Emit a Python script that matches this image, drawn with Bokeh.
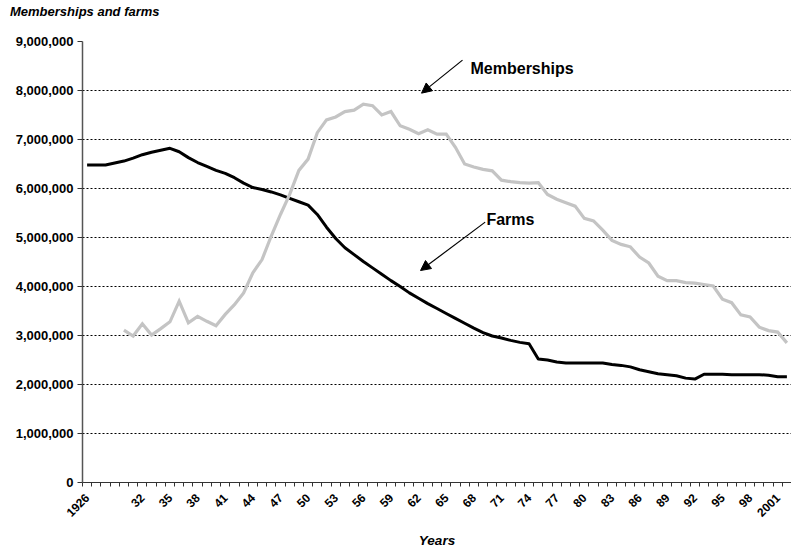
import math
from bokeh.plotting import figure
from bokeh.layouts import column
from bokeh.models import Range1d, FixedTicker, NumeralTickFormatter, Arrow, NormalHead, Label, Div
from bokeh.embed import file_html
from bokeh.resources import INLINE

# ---------------- data ----------------
farm_years = list(range(1926, 2003))
farms = [6.48, 6.48, 6.48, 6.52, 6.56, 6.62, 6.69, 6.74, 6.78, 6.82,
         6.75, 6.63, 6.53, 6.45, 6.37, 6.31, 6.22, 6.11, 6.02, 5.98,
         5.93, 5.87, 5.80, 5.73, 5.66, 5.47, 5.21, 4.98, 4.79, 4.65,
         4.51, 4.38, 4.25, 4.12, 4.00, 3.87, 3.76, 3.65, 3.55, 3.45,
         3.35, 3.25, 3.15, 3.06, 2.99, 2.95, 2.90, 2.86, 2.83, 2.52,
         2.50, 2.46, 2.44, 2.44, 2.44, 2.44, 2.44, 2.41, 2.39, 2.36,
         2.30, 2.26, 2.22, 2.20, 2.18, 2.13, 2.11, 2.21, 2.21, 2.21,
         2.20, 2.20, 2.20, 2.20, 2.19, 2.16, 2.16]
farms = [v * 1_000_000 for v in farms]

member_years = list(range(1930, 2003))
memberships = [3.11, 2.99, 3.24, 3.01, 3.14, 3.28, 3.70, 3.26, 3.39, 3.29,
               3.20, 3.43, 3.63, 3.87, 4.28, 4.55, 5.03, 5.47, 5.88, 6.37,
               6.60, 7.14, 7.40, 7.46, 7.57, 7.60, 7.72, 7.69, 7.50, 7.57,
               7.28, 7.21, 7.12, 7.20, 7.11, 7.11, 6.84, 6.50, 6.44, 6.39,
               6.36, 6.17, 6.14, 6.12, 6.11, 6.12, 5.88, 5.78, 5.71, 5.64,
               5.39, 5.34, 5.15, 4.94, 4.86, 4.81, 4.60, 4.48, 4.21, 4.12,
               4.12, 4.08, 4.07, 4.04, 4.01, 3.74, 3.67, 3.42, 3.38, 3.17,
               3.10, 3.07, 2.85]
memberships = [v * 1_000_000 for v in memberships]

tick_years = [1926, 1932, 1935, 1938, 1941, 1944, 1947, 1950, 1953, 1956, 1959,
              1962, 1965, 1968, 1971, 1974, 1977, 1980, 1983, 1986, 1989, 1992,
              1995, 1998, 2001]
tick_labels = ["1926", "32", "35", "38", "41", "44", "47", "50", "53", "56", "59",
               "62", "65", "68", "71", "74", "77", "80", "83", "86", "89", "92",
               "95", "98", "2001"]
y_ticks = [0, 1_000_000, 2_000_000, 3_000_000, 4_000_000, 5_000_000,
           6_000_000, 7_000_000, 8_000_000, 9_000_000]

FONT = "Liberation Sans"

title = Div(text="Memberships and farms", width=791, height=20, margin=(0, 0, 0, 0),
            styles={"font-family": FONT, "font-size": "13px", "font-weight": "bold",
                    "font-style": "italic", "color": "black",
                    "padding-left": "10px", "padding-top": "4px", "line-height": "normal"})

p = figure(width=791, height=530, output_backend="svg", toolbar_location=None,
           x_range=Range1d(farm_years[0] - 0.5, farm_years[-1] + 0.5),
           y_range=Range1d(0, 9_000_000),
           min_border_left=82, min_border_right=0, min_border_top=21,
           min_border_bottom=68, margin=(0, 0, 0, 0))
p.outline_line_color = None
p.background_fill_color = "white"

# grid
p.xgrid.grid_line_color = None
p.ygrid.grid_line_color = "black"
p.ygrid.grid_line_dash = "2 2"
p.ygrid.grid_line_width = 1

# y axis
p.yaxis.ticker = FixedTicker(ticks=y_ticks)
p.yaxis.formatter = NumeralTickFormatter(format="0,0")
p.yaxis.major_tick_out = 5
p.yaxis.major_tick_in = 0
p.yaxis.minor_tick_line_color = None
p.yaxis.major_label_standoff = 4
p.yaxis.major_label_text_font = FONT
p.yaxis.major_label_text_font_size = "13px"
p.yaxis.major_label_text_font_style = "bold"
p.yaxis.major_label_text_color = "black"
p.yaxis.axis_line_color = "#555555"
p.yaxis.axis_line_width = 1.5
p.yaxis.major_tick_line_color = "#333333"

# x axis
boundaries = [y - 0.5 for y in farm_years] + [farm_years[-1] + 0.5]
p.xaxis.ticker = FixedTicker(ticks=tick_years, minor_ticks=boundaries)
p.xaxis.major_label_overrides = {y: l for y, l in zip(tick_years, tick_labels)}
p.xaxis.major_tick_out = 0
p.xaxis.major_tick_in = 0
p.xaxis.minor_tick_out = 4
p.xaxis.minor_tick_in = 0
p.xaxis.minor_tick_line_color = "#333333"
p.xaxis.axis_line_color = "#333333"
p.xaxis.major_label_orientation = math.pi / 4
p.xaxis.major_label_standoff = 9
p.xaxis.major_label_text_font = FONT
p.xaxis.major_label_text_font_size = "12px"
p.xaxis.major_label_text_font_style = "bold"
p.xaxis.major_label_text_color = "black"
p.xaxis.axis_label = "Years"
p.xaxis.axis_label_standoff = 9
p.xaxis.axis_label_text_font = FONT
p.xaxis.axis_label_text_font_size = "13.5px"
p.xaxis.axis_label_text_font_style = "bold italic"
p.xaxis.axis_label_text_color = "black"

# lines
p.line(farm_years, farms, line_color="black", line_width=3, line_join="round")
p.line(member_years, memberships, line_color="#c4c4c4", line_width=3.2, line_join="miter")

# annotations
p.add_layout(Label(x=1967.64, y=8.458e6, text="Memberships", text_font=FONT,
                   text_font_size="16px", text_font_style="bold", text_color="black",
                   text_baseline="alphabetic"))
p.add_layout(Arrow(end=NormalHead(size=10, fill_color="black", line_color="black"),
                   x_start=1966.77, y_start=8.62e6, x_end=1962.32, y_end=7.946e6,
                   line_color="black", line_width=1.2))
p.add_layout(Label(x=1969.37, y=5.369e6, text="Farms", text_font=FONT,
                   text_font_size="16px", text_font_style="bold", text_color="black",
                   text_baseline="alphabetic"))
p.add_layout(Arrow(end=NormalHead(size=10, fill_color="black", line_color="black"),
                   x_start=1969.23, y_start=5.314e6, x_end=1962.21, y_end=4.326e6,
                   line_color="black", line_width=1.2))

layout = column(title, p, spacing=0, margin=(0, 0, 0, 0))
open("out.html", "w").write(file_html(layout, INLINE))
